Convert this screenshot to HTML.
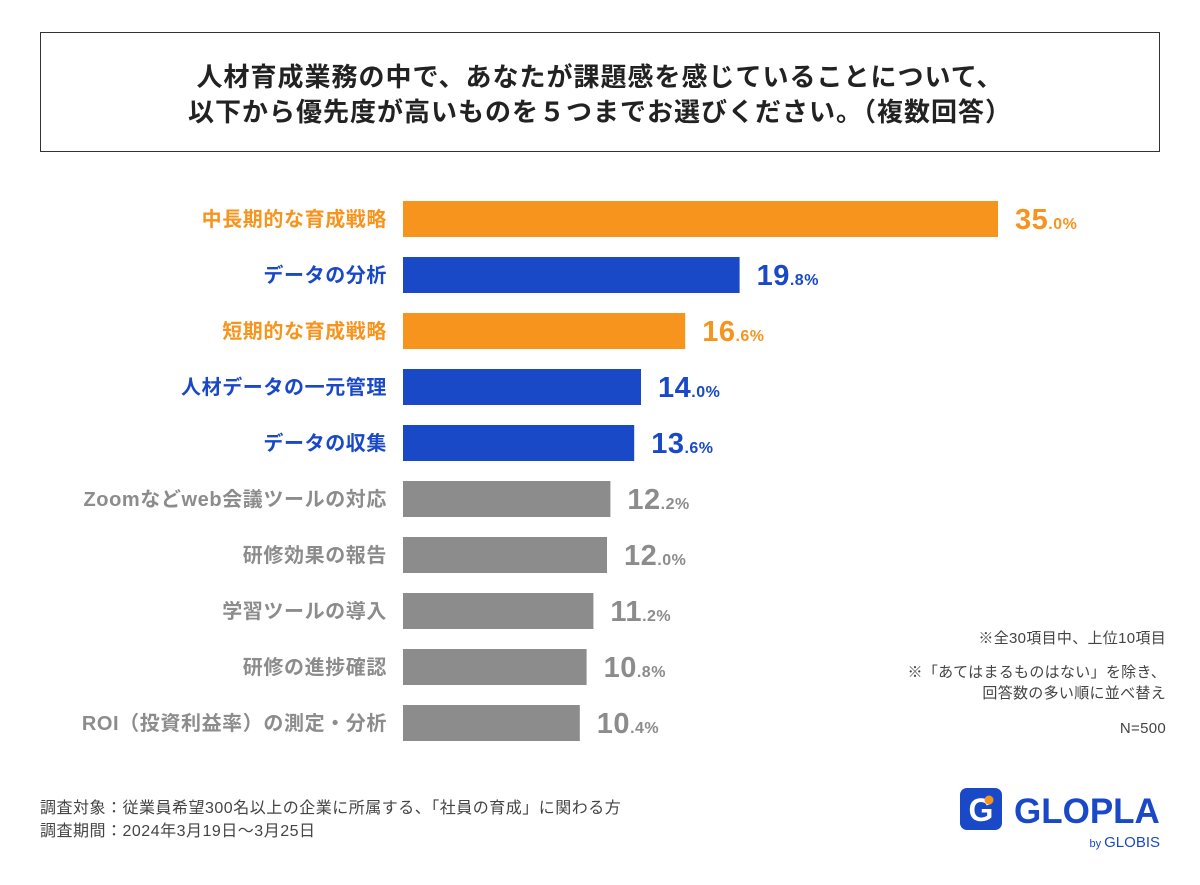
<!DOCTYPE html>
<html><head><meta charset="utf-8">
<style>
body{margin:0;background:#fff;}
svg text{font-family:"Liberation Sans","Noto Sans CJK JP",sans-serif;}
</style></head>
<body>
<svg id="chart" width="1200" height="880" xmlns="http://www.w3.org/2000/svg">
<rect x="40.5" y="32.5" width="1119" height="119" fill="#fff" stroke="#333" stroke-width="1"/>
<text x="600" y="86" text-anchor="middle" font-size="26" font-weight="bold" letter-spacing="1" fill="#222">人材育成業務の中で、あなたが課題感を感じていることについて、</text>
<text x="600" y="121" text-anchor="middle" font-size="26" font-weight="bold" letter-spacing="1" fill="#222">以下から優先度が高いものを５つまでお選びください。（複数回答）</text>
<g id="bars"></g>
<text x="1166" y="643" text-anchor="end" font-size="15" letter-spacing="0.3" fill="#444">※全30項目中、上位10項目</text>
<text x="1166" y="677" text-anchor="end" font-size="15" letter-spacing="0.3" fill="#444">※「あてはまるものはない」を除き、</text>
<text x="1166" y="698" text-anchor="end" font-size="15" letter-spacing="0.3" fill="#444">回答数の多い順に並べ替え</text>
<text x="1166" y="733" text-anchor="end" font-size="15" letter-spacing="0.3" fill="#444">N=500</text>
<text x="40" y="813" font-size="16" letter-spacing="0.5" fill="#444">調査対象：従業員希望300名以上の企業に所属する、「社員の育成」に関わる方</text>
<text x="40" y="836" font-size="16" letter-spacing="0.5" fill="#444">調査期間：2024年3月19日〜3月25日</text>
<g>
<rect x="960" y="788" width="42" height="42" rx="7" fill="#1A49C8"/>
<text x="981" y="821" text-anchor="middle" font-size="32" font-weight="bold" fill="#fff">G</text>
<circle cx="989" cy="800" r="4.5" fill="#F7941D"/>
<text x="1014" y="823" font-size="35" font-weight="bold" fill="#1A49C8">GLOPLA</text>
<text x="1160" y="847" text-anchor="end" font-size="15" fill="#1A49C8" font-family="Liberation Serif, serif"><tspan font-size="11">by </tspan>GLOBIS</text>
</g>
</svg>
<script>
const categories=["中長期的な育成戦略","データの分析","短期的な育成戦略","人材データの一元管理","データの収集","Zoomなどweb会議ツールの対応","研修効果の報告","学習ツールの導入","研修の進捗確認","ROI（投資利益率）の測定・分析"];
const values=[35.0,19.8,16.6,14.0,13.6,12.2,12.0,11.2,10.8,10.4];
const colorGroups=["orange","blue","orange","blue","blue","gray","gray","gray","gray","gray"];
const palette={orange:"#F7941D",blue:"#1A49C8",gray:"#8C8C8C"};
const x0=403,pxPer=17,rowTop=201,rowStep=56,barH=36;
const xs=v=>x0+v*pxPer;
const ys=i=>rowTop+i*rowStep;
const NS="http://www.w3.org/2000/svg";
const g=document.getElementById("bars");
categories.forEach((c,i)=>{
  const col=palette[colorGroups[i]];
  const r=document.createElementNS(NS,"rect");
  
  
  r.setAttribute("x",x0);r.setAttribute("y",ys(i));
  r.setAttribute("width",xs(values[i])-x0);r.setAttribute("height",barH);
  r.setAttribute("fill",col);g.appendChild(r);
  const t=document.createElementNS(NS,"text");
  
  
  t.setAttribute("x",387);t.setAttribute("y",ys(i)+barH/2+7);
  t.setAttribute("text-anchor","end");t.setAttribute("font-size","20");
  t.setAttribute("letter-spacing","0.6");
  t.setAttribute("font-weight","bold");t.setAttribute("fill",col);
  t.textContent=c;g.appendChild(t);
  const v=document.createElementNS(NS,"text");
  
  
  v.setAttribute("x",xs(values[i])+17);v.setAttribute("y",ys(i)+barH/2+10);
  v.setAttribute("font-weight","bold");v.setAttribute("fill",col);
  v.setAttribute("letter-spacing","0.5");
  const [a,b]=values[i].toFixed(1).split(".");
  v.innerHTML=`<tspan font-size="29">${a}</tspan><tspan font-size="16">.${b}%</tspan>`;
  g.appendChild(v);
});
</script>
</body></html>
